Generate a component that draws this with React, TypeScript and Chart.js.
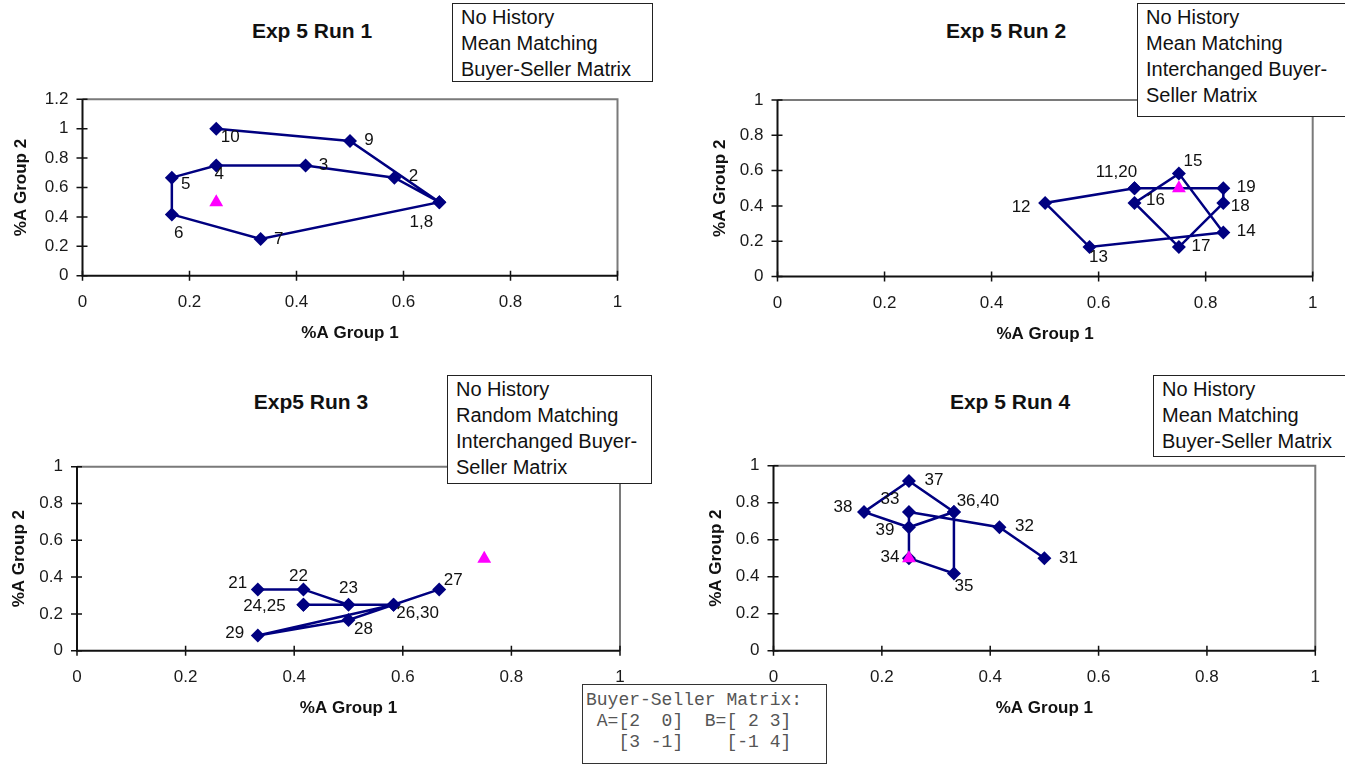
import React, { useEffect, useRef } from "react";
import { Chart, registerables } from "chart.js";

Chart.register(...registerables);

const FONT = '"Liberation Sans", Arial, sans-serif';
const MONO = '"Liberation Mono", "Courier New", monospace';
const NAVY = "#000080";
const MAGENTA = "#ff00ff";

// ---------- Data ----------
const run1X = [0.667, 0.583, 0.417, 0.25, 0.167, 0.167, 0.333, 0.667, 0.5, 0.25];
const run1Y = [0.5, 0.667, 0.75, 0.75, 0.667, 0.417, 0.25, 0.5, 0.917, 1.0];
const run1Labels = ["1,8", "2", "3", "4", "5", "6", "7", "", "9", "10"];
const run1Eq = [0.25, 0.5];

const run2X = [0.667, 0.5, 0.583, 0.833, 0.75, 0.667, 0.75, 0.833, 0.833, 0.667];
const run2Y = [0.5, 0.417, 0.167, 0.25, 0.583, 0.417, 0.167, 0.417, 0.5, 0.5];
const run2Labels = ["11,20", "12", "13", "14", "15", "16", "17", "18", "19", ""];
const run2Eq = [0.75, 0.5];

const run3X = [0.333, 0.417, 0.5, 0.417, 0.417, 0.583, 0.667, 0.5, 0.333, 0.583];
const run3Y = [0.333, 0.333, 0.25, 0.25, 0.25, 0.25, 0.333, 0.167, 0.083, 0.25];
const run3Labels = ["21", "22", "23", "24,25", "", "26,30", "27", "28", "29", ""];
const run3Eq = [0.75, 0.5];

const run4X = [0.5, 0.417, 0.25, 0.25, 0.333, 0.333, 0.25, 0.167, 0.25, 0.333];
const run4Y = [0.5, 0.667, 0.75, 0.5, 0.417, 0.75, 0.917, 0.75, 0.667, 0.75];
const run4Labels = ["31", "32", "33", "34", "35", "36,40", "37", "38", "39", ""];
const run4Eq = [0.25, 0.5];

const xTicks = [0, 0.2, 0.4, 0.6, 0.8, 1];
const xTickLabels = ["0", "0.2", "0.4", "0.6", "0.8", "1"];
const yTicksRun1 = [0, 0.2, 0.4, 0.6, 0.8, 1, 1.2];
const yTickLabelsRun1 = ["0", "0.2", "0.4", "0.6", "0.8", "1", "1.2"];
const yTicks = [0, 0.2, 0.4, 0.6, 0.8, 1];
const yTickLabels = ["0", "0.2", "0.4", "0.6", "0.8", "1"];

// ---------- Label placement (pixel offsets of label centres from points) ----------
const run1LabelOffsets = [[-18, 20], [19, -1], [18, 0], [3, 9], [14, 7], [7, 19], [18, 0], [0, 0], [19, -1], [14, 9]];
const run2LabelOffsets = [[-18, -16], [-24, 4], [9, 10], [23, -1], [14, -12], [21, -3], [22, -1], [17, 3], [23, -1], [0, 0]];
const run3LabelOffsets = [[-20, -6], [-5, -13], [0, -16], [-39, 2], [0, 0], [24, 9], [14, -9], [15, 9], [-23, -2], [0, 0]];
const run4LabelOffsets = [[24, 0], [25, -1], [-19, -13], [-19, -1], [10, 13], [24, -11], [25, -1], [-21, -5], [-24, 3], [0, 0]];

// ---------- Layout ----------
const AXIS_TITLE_SIZE = 17;
const TICK_SIZE = 17;

const panels = [
  {
    id: "p1", canvas: { x: 0, y: 85, w: 672, h: 275 }, area: { l: 82.5, t: 99.3, r: 617.5, b: 275.7 },
    yTitleX: 21, xTitleY: 333, xs: run1X, ys: run1Y, labels: run1Labels, offsets: run1LabelOffsets, eq: run1Eq,
    yT: yTicksRun1, yTL: yTickLabelsRun1, yMax: 1.2,
  },
  {
    id: "p2", canvas: { x: 672, y: 85, w: 673, h: 275 }, area: { l: 777.5, t: 100, r: 1312.7, b: 276.5 },
    yTitleX: 720, xTitleY: 334, xs: run2X, ys: run2Y, labels: run2Labels, offsets: run2LabelOffsets, eq: run2Eq,
    yT: yTicks, yTL: yTickLabels, yMax: 1,
  },
  {
    id: "p3", canvas: { x: 0, y: 450, w: 672, h: 280 }, area: { l: 77, t: 466.7, r: 620, b: 650.7 },
    yTitleX: 19, xTitleY: 708, xs: run3X, ys: run3Y, labels: run3Labels, offsets: run3LabelOffsets, eq: run3Eq,
    yT: yTicks, yTL: yTickLabels, yMax: 1,
  },
  {
    id: "p4", canvas: { x: 672, y: 450, w: 673, h: 280 }, area: { l: 773.5, t: 465.7, r: 1315.3, b: 650.7 },
    yTitleX: 716, xTitleY: 708, xs: run4X, ys: run4Y, labels: run4Labels, offsets: run4LabelOffsets, eq: run4Eq,
    yT: yTicks, yTL: yTickLabels, yMax: 1,
  },
];

const titles = [
  { text: "Exp 5 Run 1", x: 312, y: 31 },
  { text: "Exp 5 Run 2", x: 1006, y: 31 },
  { text: "Exp5 Run 3", x: 311, y: 402 },
  { text: "Exp 5 Run 4", x: 1010, y: 402 },
];

const boxes = [
  { x: 452, y: 3, w: 201, h: 79, lines: ["No History", "Mean Matching", "Buyer-Seller Matrix"] },
  { x: 1137, y: 3, w: 215, h: 114, lines: ["No History", "Mean Matching", "Interchanged Buyer-", "Seller Matrix"] },
  { x: 447, y: 375, w: 205, h: 109, lines: ["No History", "Random Matching", "Interchanged Buyer-", "Seller Matrix"] },
  { x: 1153, y: 375, w: 200, h: 82, lines: ["No History", "Mean Matching", "Buyer-Seller Matrix"] },
];

const matrixLines = ["Buyer-Seller Matrix:", " A=[2  0]  B=[ 2 3]", "   [3 -1]    [-1 4]"];

// ---------- Plugins ----------
const framePlugin = {
  id: "frame",
  beforeDatasetsDraw(chart: any) {
    const { ctx, chartArea: a, scales } = chart;
    ctx.save();
    ctx.lineCap = "butt";
    ctx.strokeStyle = "#7a7a7a";
    ctx.lineWidth = 2;
    ctx.beginPath();
    ctx.moveTo(a.left, a.top);
    ctx.lineTo(a.right, a.top);
    ctx.lineTo(a.right, a.bottom);
    ctx.stroke();
    ctx.strokeStyle = "#111";
    ctx.lineWidth = 2;
    ctx.beginPath();
    ctx.moveTo(a.left, a.top);
    ctx.lineTo(a.left, a.bottom);
    ctx.lineTo(a.right, a.bottom);
    ctx.stroke();
    ctx.lineWidth = 1.5;
    ctx.beginPath();
    scales.x.ticks.forEach((t: any) => {
      const px = scales.x.getPixelForValue(t.value);
      ctx.moveTo(px, a.bottom - 5);
      ctx.lineTo(px, a.bottom + 5);
    });
    scales.y.ticks.forEach((t: any) => {
      const py = scales.y.getPixelForValue(t.value);
      ctx.moveTo(a.left - 6, py);
      ctx.lineTo(a.left + 5, py);
    });
    ctx.stroke();
    ctx.restore();
  },
};

function makeLabelPlugin(labels: string[], offsets: number[][]) {
  return {
    id: "pointLabels",
    afterDatasetsDraw(chart: any) {
      const { ctx } = chart;
      const meta = chart.getDatasetMeta(1);
      ctx.save();
      ctx.font = `${TICK_SIZE}px ${FONT}`;
      ctx.fillStyle = "#111";
      ctx.textAlign = "center";
      ctx.textBaseline = "middle";
      meta.data.forEach((el: any, i: number) => {
        const txt = labels[i];
        if (!txt) return;
        const [dx, dy] = offsets[i];
        ctx.fillText(txt, el.x + dx, el.y + dy);
      });
      ctx.restore();
    },
  };
}

function ChartPanel({ p }: { p: any }) {
  const ref = useRef<HTMLCanvasElement | null>(null);
  useEffect(() => {
    if (!ref.current) return;
    const c = p.canvas;
    const a = p.area;
    const lh = AXIS_TITLE_SIZE * 1.2;
    const padLeft = p.yTitleX - c.x - lh / 2;
    const yWidth = a.l - c.x - padLeft;
    const padTop = a.t - c.y;
    const padRight = c.x + c.w - a.r;
    const xHeight = p.xTitleY + lh / 2 - a.b;
    const padBottom = c.y + c.h - a.b - xHeight;
    const tickFont = { family: FONT, size: TICK_SIZE };
    const titleFont = { family: FONT, size: AXIS_TITLE_SIZE, weight: "bold" as const };

    const chart = new Chart(ref.current, {
      type: "scatter",
      data: {
        datasets: [
          {
            data: [{ x: p.eq[0], y: p.eq[1] }],
            pointStyle: "triangle",
            pointRadius: 8,
            pointBackgroundColor: MAGENTA,
            pointBorderColor: MAGENTA,
            pointBorderWidth: 0,
            showLine: false,
          } as any,
          {
            data: p.xs.map((x: number, i: number) => ({ x, y: p.ys[i] })),
            showLine: true,
            borderColor: NAVY,
            borderWidth: 2.5,
            tension: 0,
            pointStyle: "rectRot",
            pointRadius: 7,
            pointBackgroundColor: NAVY,
            pointBorderColor: NAVY,
            pointBorderWidth: 0,
          } as any,
        ],
      },
      options: {
        animation: false,
        responsive: false,
        maintainAspectRatio: false,
        events: [],
        layout: { padding: { left: padLeft, top: padTop, right: padRight, bottom: padBottom } },
        plugins: { legend: { display: false }, tooltip: { enabled: false }, title: { display: false } },
        scales: {
          x: {
            type: "linear",
            min: 0,
            max: 1,
            grid: { display: false, drawTicks: false },
            border: { display: false },
            afterBuildTicks: (s: any) => {
              s.ticks = xTicks.map((v) => ({ value: v }));
            },
            afterFit: (s: any) => {
              s.height = xHeight;
              s.paddingLeft = 0;
              s.paddingRight = 0;
              s.paddingTop = 0;
              s.paddingBottom = 0;
            },
            ticks: {
              padding: 16.5,
              font: tickFont,
              color: "#1a1a1a",
              maxRotation: 0,
              autoSkip: false,
              callback: (_v: any, i: number) => xTickLabels[i],
            },
            title: { display: true, text: "%A Group 1", font: titleFont, color: "#111", padding: 0 },
          },
          y: {
            type: "linear",
            min: 0,
            max: p.yMax,
            grid: { display: false, drawTicks: false },
            border: { display: false },
            afterBuildTicks: (s: any) => {
              s.ticks = p.yT.map((v: number) => ({ value: v }));
            },
            afterFit: (s: any) => {
              s.width = yWidth;
              s.paddingLeft = 0;
              s.paddingRight = 0;
              s.paddingTop = 0;
              s.paddingBottom = 0;
            },
            ticks: {
              padding: 14,
              font: tickFont,
              color: "#1a1a1a",
              autoSkip: false,
              callback: (_v: any, i: number) => p.yTL[i],
            },
            title: { display: true, text: "%A Group 2", font: titleFont, color: "#111", padding: 0 },
          },
        },
      } as any,
      plugins: [framePlugin, makeLabelPlugin(p.labels, p.offsets)],
    });
    return () => chart.destroy();
  }, [p]);
  return (
    <canvas
      ref={ref}
      width={p.canvas.w}
      height={p.canvas.h}
      style={{ position: "absolute", left: p.canvas.x, top: p.canvas.y, width: p.canvas.w, height: p.canvas.h }}
    />
  );
}

export default function App() {
  return (
    <div
      style={{
        position: "absolute",
        left: 0,
        top: 0,
        width: 1345,
        height: 766,
        overflow: "hidden",
        background: "#fff",
        fontFamily: FONT,
      }}
    >
      {panels.map((p) => (
        <ChartPanel key={p.id} p={p} />
      ))}
      {titles.map((t) => (
        <div
          key={t.text}
          style={{
            position: "absolute",
            left: t.x,
            top: t.y,
            transform: "translate(-50%, -50%)",
            fontWeight: "bold",
            fontSize: 21,
            whiteSpace: "nowrap",
            color: "#111",
          }}
        >
          {t.text}
        </div>
      ))}
      {boxes.map((b, i) => (
        <div
          key={i}
          style={{
            position: "absolute",
            left: b.x,
            top: b.y,
            width: b.w,
            height: b.h,
            boxSizing: "border-box",
            border: "1.5px solid #222",
            background: "#fff",
            paddingLeft: 8,
            fontSize: 20,
            lineHeight: "26px",
            color: "#111",
            whiteSpace: "nowrap",
            zIndex: 2,
          }}
        >
          {b.lines.map((l, j) => (
            <div key={j}>{l}</div>
          ))}
        </div>
      ))}
      <div
        style={{
          position: "absolute",
          left: 582,
          top: 684,
          width: 245,
          height: 80,
          boxSizing: "border-box",
          border: "1.5px solid #333",
          background: "#fff",
          padding: "5px 0 0 3px",
          fontFamily: MONO,
          fontSize: 18,
          lineHeight: "21px",
          color: "#555",
          whiteSpace: "pre",
          zIndex: 2,
        }}
      >
        {matrixLines.map((l, j) => (
          <div key={j}>{l}</div>
        ))}
      </div>
    </div>
  );
}
